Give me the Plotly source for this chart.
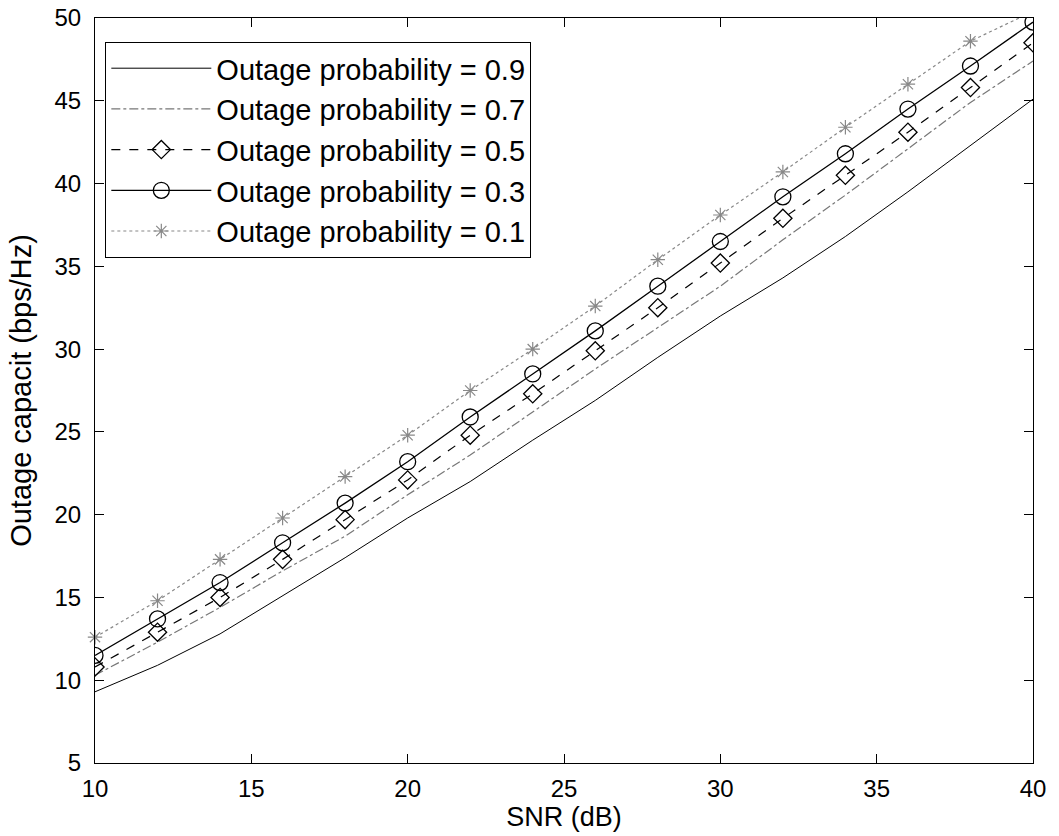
import plotly.graph_objects as go

snr = [10, 12, 14, 16, 18, 20, 22, 24, 26, 28, 30, 32, 34, 36, 38, 40]

cap_09 = [9.3, 10.9, 12.8, 15.1, 17.4, 19.8, 22.0, 24.5, 26.9, 29.5, 32.0, 34.3, 36.8, 39.5, 42.3, 45.1]
cap_07 = [10.3, 12.3, 14.4, 16.6, 18.7, 21.2, 23.6, 26.2, 28.8, 31.3, 33.8, 36.6, 39.3, 42.1, 44.9, 47.4]
cap_05 = [10.8, 12.9, 15.0, 17.3, 19.7, 22.1, 24.8, 27.3, 29.9, 32.5, 35.2, 37.9, 40.5, 43.1, 45.8, 48.5]
cap_03 = [11.5, 13.7, 15.9, 18.3, 20.7, 23.2, 25.9, 28.5, 31.1, 33.8, 36.5, 39.2, 41.8, 44.5, 47.1, 49.75]
cap_01 = [12.6, 14.8, 17.3, 19.8, 22.3, 24.8, 27.5, 30.0, 32.6, 35.4, 38.1, 40.7, 43.4, 46.0, 48.6, 50.4]

names = ["Outage probability = 0.9", "Outage probability = 0.7",
         "Outage probability = 0.5", "Outage probability = 0.3",
         "Outage probability = 0.1"]

x_ticks = [10, 15, 20, 25, 30, 35, 40]
y_ticks = [5, 10, 15, 20, 25, 30, 35, 40, 45, 50]

FONT = "Liberation Sans, Arial, sans-serif"

fig = go.Figure()
fig.add_trace(go.Scatter(x=snr, y=cap_09, name=names[0], mode="lines", legendgroup="a",
                         line=dict(color="black", width=1)))
fig.add_trace(go.Scatter(x=snr, y=cap_07, name=names[1], mode="lines", legendgroup="b",
                         line=dict(color="#777777", width=1.2, dash="dashdot")))
fig.add_trace(go.Scatter(x=snr, y=cap_05, name=names[2], mode="lines+markers", legendgroup="c",
                         line=dict(color="black", width=1.2, dash="dash"),
                         marker=dict(symbol="diamond-open", size=14,
                                     line=dict(color="black", width=1.3))))
fig.add_trace(go.Scatter(x=snr, y=cap_03, name=names[3], mode="lines+markers", legendgroup="d",
                         line=dict(color="black", width=1.3),
                         marker=dict(symbol="circle-open", size=16,
                                     line=dict(color="black", width=1.3))))
fig.add_trace(go.Scatter(x=snr, y=cap_01, name=names[4], mode="lines+markers", legendgroup="e",
                         line=dict(color="#888888", width=1.2, dash="dot"),
                         marker=dict(symbol="asterisk-open", size=12,
                                     line=dict(color="#777777", width=1.2)),
                         cliponaxis=False))

axis_common = dict(showline=True, linecolor="black", linewidth=1, mirror="ticks",
                   ticks="inside", ticklen=9, tickcolor="black", showgrid=False,
                   zeroline=False, automargin=False,
                   tickfont=dict(family=FONT, size=24, color="black"))

fig.update_xaxes(range=[10, 40], tickvals=x_ticks, ticklabelstandoff=4,
                 title=dict(text="SNR (dB)", font=dict(family=FONT, size=27, color="black"),
                            standoff=0),
                 **axis_common)
fig.update_yaxes(range=[5, 50], tickvals=y_ticks, ticklabelstandoff=8,
                 title=dict(text="Outage capacit (bps/Hz)", font=dict(family=FONT, size=29, color="black"),
                            standoff=14),
                 **axis_common)

fig.update_layout(
    template="none",
    width=1059, height=836,
    margin=dict(l=95, r=26, t=18, b=73, pad=0),
    plot_bgcolor="white", paper_bgcolor="white",
    font=dict(family=FONT, color="black"),
    showlegend=True,
    legend=dict(x=0.011, y=0.968, xanchor="left", yanchor="top",
                bgcolor="white", bordercolor="black", borderwidth=1,
                font=dict(family=FONT, size=29, color="black"),
                itemwidth=100, tracegroupgap=0, traceorder="grouped"),
)

fig.write_html("out.html", config={"displayModeBar": False},
               post_script="document.body.style.margin='0';")
